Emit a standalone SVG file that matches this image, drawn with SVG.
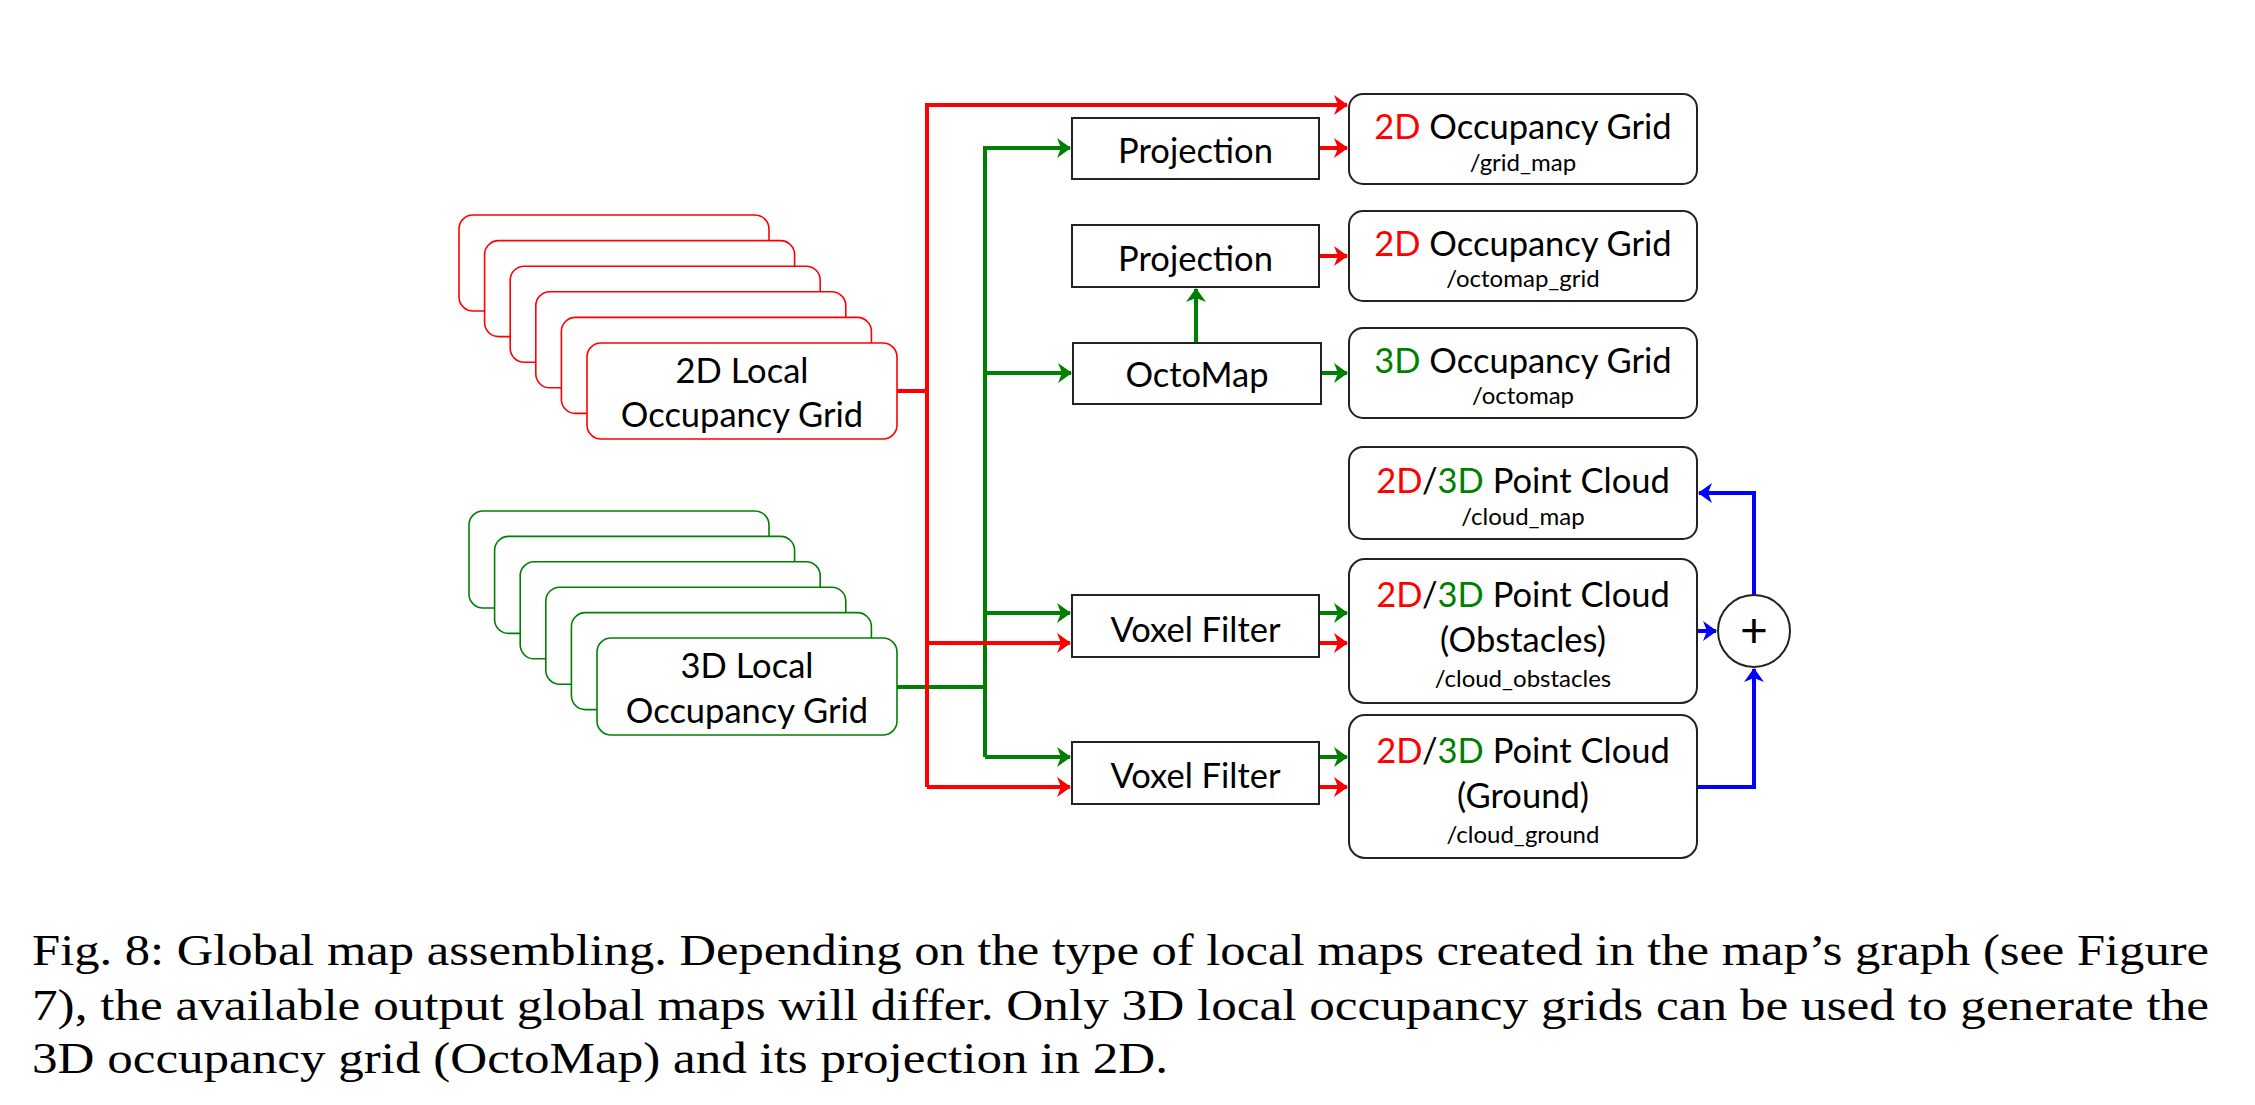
<svg xmlns="http://www.w3.org/2000/svg" width="2255" height="1105" viewBox="0 0 2255 1105">
<style>
.lbl{font-family:Lato,"Open Sans",sans-serif;font-size:34.5px;fill:#000;text-anchor:middle}
.sub{font-family:Lato,"Open Sans",sans-serif;font-size:24px;fill:#000;text-anchor:middle}
.cap{font-family:"Liberation Serif",serif;font-size:45px;fill:#000}
.box{fill:#fff;stroke:#222;stroke-width:2}
.sr{fill:#fff;stroke:#ff0000;stroke-width:1.6}
.sg{fill:#fff;stroke:#008000;stroke-width:1.6}
.r{fill:#ff0000}.g{fill:#008000}
.cr{fill:none;stroke:#ff0000;stroke-width:4}
.cg{fill:none;stroke:#008000;stroke-width:4}
.cb{fill:none;stroke:#0000ff;stroke-width:4}
</style>
<defs>
<marker id="ar" markerUnits="userSpaceOnUse" markerWidth="16" markerHeight="24" viewBox="-14 -11 16 22" refX="0" refY="0" orient="auto"><path d="M-13,-10 L1,0 L-13,10 L-9,0 z" fill="#ff0000"/></marker>
<marker id="ag" markerUnits="userSpaceOnUse" markerWidth="16" markerHeight="24" viewBox="-14 -11 16 22" refX="0" refY="0" orient="auto"><path d="M-13,-10 L1,0 L-13,10 L-9,0 z" fill="#008000"/></marker>
<marker id="ab" markerUnits="userSpaceOnUse" markerWidth="16" markerHeight="24" viewBox="-14 -11 16 22" refX="0" refY="0" orient="auto"><path d="M-13,-10 L1,0 L-13,10 L-9,0 z" fill="#0000ff"/></marker>
</defs>
<rect width="2255" height="1105" fill="#fff"/>

<g id="connectors">
<g id="green-lines">
<path class="cg" d="M897,687 H985"/>
<path class="cg" d="M985,757 V148 H1070" marker-end="url(#ag)"/>
<path class="cg" d="M985,373 H1071" marker-end="url(#ag)"/>
<path class="cg" d="M985,613 H1070" marker-end="url(#ag)"/>
<path class="cg" d="M985,757 H1070" marker-end="url(#ag)"/>
<path class="cg" d="M1196,343 V289" marker-end="url(#ag)"/>
<path class="cg" d="M1321,373 H1347" marker-end="url(#ag)"/>
<path class="cg" d="M1319,613 H1347" marker-end="url(#ag)"/>
<path class="cg" d="M1319,757 H1347" marker-end="url(#ag)"/>
</g>
<g id="red-lines">
<path class="cr" d="M897,391 H927"/>
<path class="cr" d="M927,787 V105 H1347" marker-end="url(#ar)"/>
<path class="cr" d="M927,643 H1070" marker-end="url(#ar)"/>
<path class="cr" d="M927,787 H1070" marker-end="url(#ar)"/>
<path class="cr" d="M1319,148 H1347" marker-end="url(#ar)"/>
<path class="cr" d="M1319,256 H1347" marker-end="url(#ar)"/>
<path class="cr" d="M1319,643 H1347" marker-end="url(#ar)"/>
<path class="cr" d="M1319,787 H1347" marker-end="url(#ar)"/>
</g>
<g id="blue-lines">
<path class="cb" d="M1697,631 H1716" marker-end="url(#ab)"/>
<path class="cb" d="M1754,595 V493 H1699" marker-end="url(#ab)"/>
<path class="cb" d="M1697,787 H1754 V669" marker-end="url(#ab)"/>
</g>
</g>

<g id="local2d">
<rect class="sr" x="459" y="215" width="310" height="96" rx="14"/>
<rect class="sr" x="484.6" y="240.6" width="310" height="96" rx="14"/>
<rect class="sr" x="510.2" y="266.2" width="310" height="96" rx="14"/>
<rect class="sr" x="535.8" y="291.8" width="310" height="96" rx="14"/>
<rect class="sr" x="561.4" y="317.4" width="310" height="96" rx="14"/>
<rect class="sr" x="587" y="343" width="310" height="96" rx="14"/>
<text class="lbl" x="742" y="383">2D Local</text>
<text class="lbl" x="742" y="427">Occupancy Grid</text>
</g>

<g id="local3d">
<rect class="sg" x="469" y="511" width="300" height="97" rx="14"/>
<rect class="sg" x="494.6" y="536.4" width="300" height="97" rx="14"/>
<rect class="sg" x="520.2" y="561.8" width="300" height="97" rx="14"/>
<rect class="sg" x="545.8" y="587.2" width="300" height="97" rx="14"/>
<rect class="sg" x="571.4" y="612.6" width="300" height="97" rx="14"/>
<rect class="sg" x="597" y="638" width="300" height="97" rx="14"/>
<text class="lbl" x="747" y="678">3D Local</text>
<text class="lbl" x="747" y="723">Occupancy Grid</text>
</g>

<g id="projection1">
<rect class="box" x="1072" y="118" width="247" height="61"/>
<text class="lbl" x="1195.5" y="163">Projection</text>
</g>
<g id="projection2">
<rect class="box" x="1072" y="225" width="247" height="62"/>
<text class="lbl" x="1195.5" y="271">Projection</text>
</g>
<g id="octomap">
<rect class="box" x="1073" y="343" width="248" height="61"/>
<text class="lbl" x="1197" y="387">OctoMap</text>
</g>
<g id="voxel1">
<rect class="box" x="1072" y="595" width="247" height="62"/>
<text class="lbl" x="1195.5" y="642">Voxel Filter</text>
</g>
<g id="voxel2">
<rect class="box" x="1072" y="742" width="247" height="62"/>
<text class="lbl" x="1195.5" y="788">Voxel Filter</text>
</g>

<g id="grid_map">
<rect class="box" x="1349" y="94" width="348" height="90" rx="14"/>
<text class="lbl" x="1523" y="139"><tspan class="r">2D</tspan> Occupancy Grid</text>
<text class="sub" x="1523" y="171">/grid_map</text>
</g>
<g id="octomap_grid">
<rect class="box" x="1349" y="211" width="348" height="90" rx="14"/>
<text class="lbl" x="1523" y="256"><tspan class="r">2D</tspan> Occupancy Grid</text>
<text class="sub" x="1523" y="287">/octomap_grid</text>
</g>
<g id="octomap_out">
<rect class="box" x="1349" y="328" width="348" height="90" rx="14"/>
<text class="lbl" x="1523" y="373"><tspan class="g">3D</tspan> Occupancy Grid</text>
<text class="sub" x="1523" y="404">/octomap</text>
</g>
<g id="cloud_map">
<rect class="box" x="1349" y="447" width="348" height="92" rx="14"/>
<text class="lbl" x="1523" y="493"><tspan class="r">2D</tspan>/<tspan class="g">3D</tspan> Point Cloud</text>
<text class="sub" x="1523" y="525">/cloud_map</text>
</g>
<g id="cloud_obstacles">
<rect class="box" x="1349" y="559" width="348" height="144" rx="16"/>
<text class="lbl" x="1523" y="607"><tspan class="r">2D</tspan>/<tspan class="g">3D</tspan> Point Cloud</text>
<text class="lbl" x="1523" y="652">(Obstacles)</text>
<text class="sub" x="1523" y="687">/cloud_obstacles</text>
</g>
<g id="cloud_ground">
<rect class="box" x="1349" y="715" width="348" height="143" rx="16"/>
<text class="lbl" x="1523" y="763"><tspan class="r">2D</tspan>/<tspan class="g">3D</tspan> Point Cloud</text>
<text class="lbl" x="1523" y="808">(Ground)</text>
<text class="sub" x="1523" y="843">/cloud_ground</text>
</g>
<g id="sum">
<circle cx="1754" cy="631" r="36" fill="#fff" stroke="#222" stroke-width="2"/>
<text class="lbl" x="1754" y="647" style="font-size:48px">+</text>
</g>

<g id="caption">
<text class="cap" x="32" y="965" textLength="2177" lengthAdjust="spacingAndGlyphs">Fig.  8: Global map assembling. Depending on the type of local maps created in the map’s graph (see Figure</text>
<text class="cap" x="32" y="1020" textLength="2177" lengthAdjust="spacingAndGlyphs">7), the available output global maps will differ. Only 3D local occupancy grids can be used to generate the</text>
<text class="cap" x="32" y="1073" textLength="1136" lengthAdjust="spacingAndGlyphs">3D occupancy grid (OctoMap) and its projection in 2D.</text>
</g>
</svg>
